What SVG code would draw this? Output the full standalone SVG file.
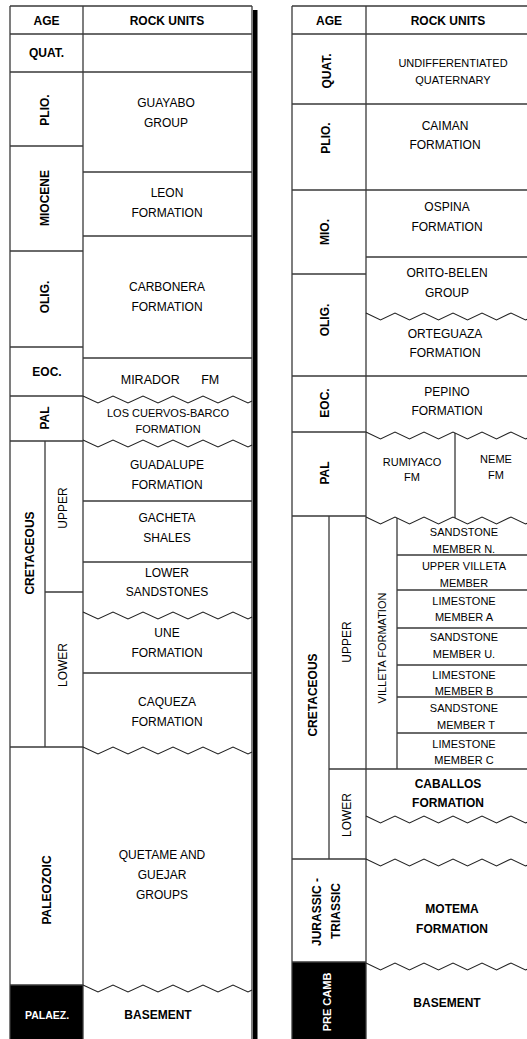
<svg xmlns="http://www.w3.org/2000/svg" xmlns:xlink="http://www.w3.org/1999/xlink" width="527" height="1039" viewBox="0 0 527 1039">
<style>
text{font-family:"Liberation Sans",Arial,sans-serif;fill:#000;text-anchor:middle}
.b{font-weight:bold;font-size:12px}
.r{font-size:12px}
.s{font-size:11px}
.w{fill:#fff}
.ln{stroke:#3a3a3a;stroke-width:1.3;fill:none}
.zz{stroke:#222;stroke-width:1.1;fill:none}
</style>
<defs>
<path id="zzL" d="M0,0 l15,7 l15,-7 l15,7 l15,-7 l15,7 l15,-7 l15,7 l15,-7 l15,7 l15,-7 l15,7 l4,-1.9"/>
<path id="zzR" d="M0,0 l14.5,7 l14.5,-7 l14.5,7 l14.5,-7 l14.5,7 l14.5,-7 l14.5,7 l14.5,-7 l14.5,7 l14.5,-7 l14.5,7 l1.5,-0.7"/>
</defs>
<rect width="527" height="1039" fill="#fff"/>

<!-- black fills -->
<rect x="10" y="985" width="73" height="54" fill="#000"/>
<rect x="292" y="962" width="74" height="77" fill="#000"/>
<rect x="253" y="10" width="4.5" height="1029" fill="#000"/>

<g id="grid">
<path class="ln" d="M10,6 H252 M10,6 V1039 M252,6 V1039 M83,6 V1039
M10,34 H252 M10,72 H252 M10,146 H83 M10,251 H83 M10,347 H83 M10,396 H83 M10,441 H83 M10,747 H83 M10,985 H83
M83,172 H252 M83,236 H252 M83,358 H252 M83,501 H252 M83,562 H252 M83,673 H252
M45,441 V747 M45,592 H83"/>
<path class="ln" d="M292,6 H527 M292,6 V1039 M366,6 V1039
M292,34 H527 M292,104 H527 M292,190 H527 M366,257 H527 M292,274 H366 M292,376 H527 M292,432 H366 M292,516 H366 M292,859 H366 M292,962 H366
M329,516 V859 M397,518 V769 M455,433 V518
M397,555 H527 M397,590 H527 M397,628 H527 M397,665 H527 M397,697 H527 M397,733 H527 M329,769 H527"/>
<use href="#zzL" xlink:href="#zzL" class="zz" x="83" y="396"/>
<use href="#zzL" xlink:href="#zzL" class="zz" x="83" y="440"/>
<use href="#zzL" xlink:href="#zzL" class="zz" x="83" y="612"/>
<use href="#zzL" xlink:href="#zzL" class="zz" x="83" y="747"/>
<use href="#zzL" xlink:href="#zzL" class="zz" x="83" y="985"/>
<use href="#zzR" xlink:href="#zzR" class="zz" x="366" y="313"/>
<use href="#zzR" xlink:href="#zzR" class="zz" x="366" y="432"/>
<use href="#zzR" xlink:href="#zzR" class="zz" x="366" y="517"/>
<use href="#zzR" xlink:href="#zzR" class="zz" x="366" y="816"/>
<use href="#zzR" xlink:href="#zzR" class="zz" x="366" y="859"/>
<use href="#zzR" xlink:href="#zzR" class="zz" x="366" y="963"/>
</g>

<!-- LEFT TABLE -->
<g id="L-header">
<text class="b" x="46.5" y="25.3">AGE</text>
<text class="b" x="167" y="25.3">ROCK UNITS</text>
</g>
<g id="L-quat"><text class="b" x="46.5" y="57.3">QUAT.</text></g>
<g id="L-plio"><text class="b" transform="translate(45,110) rotate(-90)" y="4.3">PLIO.</text></g>
<g id="L-miocene"><text class="b" transform="translate(45,198) rotate(-90)" y="4.3">MIOCENE</text></g>
<g id="L-olig"><text class="b" transform="translate(45,297) rotate(-90)" y="4.3">OLIG.</text></g>
<g id="L-eoc"><text class="b" x="47" y="376.3">EOC.</text></g>
<g id="L-pal"><text class="b" transform="translate(45,418) rotate(-90)" y="4.3">PAL</text></g>
<g id="L-cretaceous"><text class="b" transform="translate(30,553) rotate(-90)" y="4.3">CRETACEOUS</text></g>
<g id="L-upper"><text class="r" transform="translate(63,508) rotate(-90)" y="4.3">UPPER</text></g>
<g id="L-lower"><text class="r" transform="translate(63,665) rotate(-90)" y="4.3">LOWER</text></g>
<g id="L-paleozoic"><text class="b" transform="translate(47,890) rotate(-90)" y="4.3">PALEOZOIC</text></g>
<g id="L-palaez"><text class="b w" style="font-size:10.5px" x="47" y="1019">PALAEZ.</text></g>

<g id="L-guayabo"><text class="r" x="166" y="107">GUAYABO</text><text class="r" x="166" y="127">GROUP</text></g>
<g id="L-leon"><text class="r" x="167" y="196.5">LEON</text><text class="r" x="167" y="216.5">FORMATION</text></g>
<g id="L-carbonera"><text class="r" x="167" y="291">CARBONERA</text><text class="r" x="167" y="311">FORMATION</text></g>
<g id="L-mirador"><text style="font-size:12.5px" x="170" y="383.5">MIRADOR <tspan dx="18">FM</tspan></text></g>
<g id="L-loscuervos"><text class="s" x="168" y="417">LOS CUERVOS-BARCO</text><text class="s" x="168" y="433">FORMATION</text></g>
<g id="L-guadalupe"><text class="r" x="167" y="469">GUADALUPE</text><text class="r" x="167" y="489">FORMATION</text></g>
<g id="L-gacheta"><text class="r" x="167" y="522">GACHETA</text><text class="r" x="167" y="542">SHALES</text></g>
<g id="L-lowersand"><text class="r" x="167" y="577">LOWER</text><text class="r" x="167" y="596">SANDSTONES</text></g>
<g id="L-une"><text class="r" x="167" y="637">UNE</text><text class="r" x="167" y="657">FORMATION</text></g>
<g id="L-caqueza"><text class="r" x="167" y="706">CAQUEZA</text><text class="r" x="167" y="726">FORMATION</text></g>
<g id="L-quetame"><text class="r" x="162" y="859">QUETAME AND</text><text class="r" x="162" y="879">GUEJAR</text><text class="r" x="162" y="899">GROUPS</text></g>
<g id="L-basement"><text class="b" x="158" y="1019">BASEMENT</text></g>

<!-- RIGHT TABLE -->
<g id="R-header">
<text class="b" x="329" y="25.3">AGE</text>
<text class="b" x="448" y="25.3">ROCK UNITS</text>
</g>
<g id="R-quat"><text class="b" transform="translate(327,71) rotate(-90)" y="4.3">QUAT.</text></g>
<g id="R-plio"><text class="b" transform="translate(326,138) rotate(-90)" y="4.3">PLIO.</text></g>
<g id="R-mio"><text class="b" transform="translate(325,232) rotate(-90)" y="4.3">MIO.</text></g>
<g id="R-olig"><text class="b" transform="translate(325,320) rotate(-90)" y="4.3">OLIG.</text></g>
<g id="R-eoc"><text class="b" transform="translate(325,403) rotate(-90)" y="4.3">EOC.</text></g>
<g id="R-pal"><text class="b" transform="translate(325,473) rotate(-90)" y="4.3">PAL</text></g>
<g id="R-cretaceous"><text class="b" transform="translate(313,695) rotate(-90)" y="4.3">CRETACEOUS</text></g>
<g id="R-upper"><text class="r" transform="translate(347,642) rotate(-90)" y="4.3">UPPER</text></g>
<g id="R-lower"><text class="r" transform="translate(347,815) rotate(-90)" y="4.3">LOWER</text></g>
<g id="R-villeta"><text class="s" transform="translate(382,648) rotate(-90)" y="3.9">VILLETA FORMATION</text></g>
<g id="R-jurassic"><text class="b" transform="translate(317,912) rotate(-90)" y="4.3">JURASSIC -</text><text class="b" transform="translate(336,911) rotate(-90)" y="4.3">TRIASSIC</text></g>
<g id="R-precamb"><text class="b w" style="font-size:11px" transform="translate(327,1002) rotate(-90)" y="4">PRE CAMB</text></g>

<g id="R-undiff"><text class="s" x="453" y="67">UNDIFFERENTIATED</text><text class="s" x="453" y="84">QUATERNARY</text></g>
<g id="R-caiman"><text class="r" x="445" y="130">CAIMAN</text><text class="r" x="445" y="149">FORMATION</text></g>
<g id="R-ospina"><text class="r" x="447" y="211">OSPINA</text><text class="r" x="447" y="231">FORMATION</text></g>
<g id="R-orito"><text class="r" x="447" y="277">ORITO-BELEN</text><text class="r" x="447" y="297">GROUP</text></g>
<g id="R-orteguaza"><text class="r" x="445" y="338">ORTEGUAZA</text><text class="r" x="445" y="357">FORMATION</text></g>
<g id="R-pepino"><text class="r" x="447" y="396">PEPINO</text><text class="r" x="447" y="415">FORMATION</text></g>
<g id="R-rumiyaco"><text class="s" x="412" y="466">RUMIYACO</text><text class="s" x="412" y="481">FM</text></g>
<g id="R-neme"><text class="s" x="496" y="463">NEME</text><text class="s" x="496" y="479">FM</text></g>
<g id="R-sandN"><text class="s" x="464" y="536">SANDSTONE</text><text class="s" x="464" y="553">MEMBER N.</text></g>
<g id="R-uppervilleta"><text class="s" x="464" y="570">UPPER VILLETA</text><text class="s" x="464" y="587">MEMBER</text></g>
<g id="R-limeA"><text class="s" x="464" y="605">LIMESTONE</text><text class="s" x="464" y="621">MEMBER A</text></g>
<g id="R-sandU"><text class="s" x="464" y="641">SANDSTONE</text><text class="s" x="464" y="658">MEMBER U.</text></g>
<g id="R-limeB"><text class="s" x="464" y="679">LIMESTONE</text><text class="s" x="464" y="695">MEMBER B</text></g>
<g id="R-sandT"><text class="s" x="464" y="712">SANDSTONE</text><text class="s" x="466" y="729">MEMBER T</text></g>
<g id="R-limeC"><text class="s" x="464" y="748">LIMESTONE</text><text class="s" x="464" y="764">MEMBER C</text></g>
<g id="R-caballos"><text class="b" x="448" y="788">CABALLOS</text><text class="b" x="448" y="807">FORMATION</text></g>
<g id="R-motema"><text class="b" x="452" y="913">MOTEMA</text><text class="b" x="452" y="933">FORMATION</text></g>
<g id="R-basement"><text class="b" x="447" y="1007">BASEMENT</text></g>
</svg>
